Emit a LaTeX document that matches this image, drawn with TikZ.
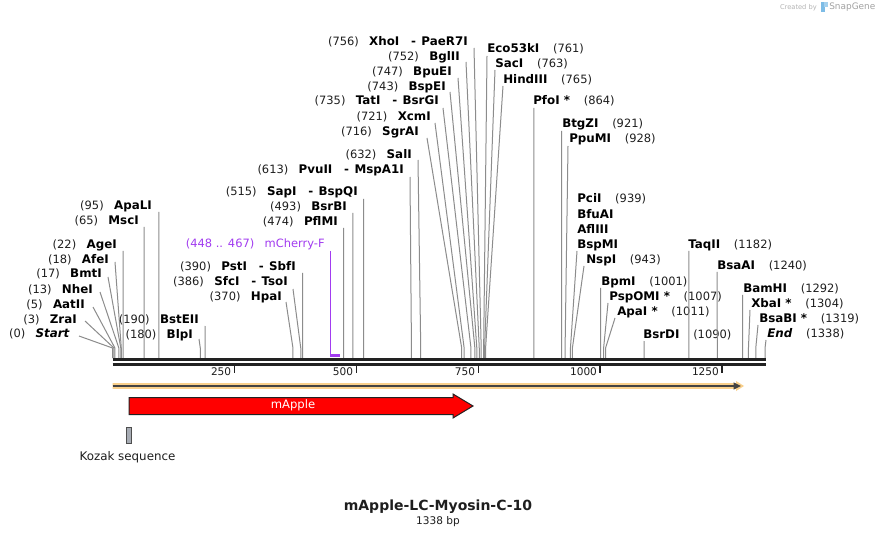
\documentclass[tikz,border=0pt]{standalone}
\usepackage{fontspec}
\setmainfont{DejaVu Sans}
\usetikzlibrary{arrows.meta}
\definecolor{cutc}{HTML}{8C8C8C}
\definecolor{numc}{HTML}{1E1E1E}
\definecolor{purp}{HTML}{A23CF0}
\definecolor{orng}{HTML}{F9D08C}
\definecolor{darkl}{HTML}{222222}
\definecolor{kozc}{HTML}{A7ACB4}
\definecolor{wmc}{HTML}{B4B4B4}
\definecolor{logoc}{HTML}{7DBCE6}

\newcommand\nm[1]{{\fontsize{8.9}{10}\selectfont\bfseries #1}}
\newcommand\dsh{\hspace{1.0em}-\hspace{0.45em}}
\newcommand\siteL[8]{%
  \node[lab,anchor=east] (n#1) at (#4,#5) {\textcolor{numc}{(#2)}\hspace{0.9em}\nm{#3}};
  \coordinate (t#1) at (#6,#7);
  \coordinate (k#1) at ({112.5+0.4877*#8},348);
  \coordinate (b#1) at ({112.5+0.4877*#8},358);
  \draw[cut] (t#1) -- (k#1) -- (b#1);}
\newcommand\siteR[8]{%
  \node[lab,anchor=west] (n#1) at (#4,#5) {\nm{#2}\hspace{1.2em}\textcolor{numc}{(#3)}};
  \coordinate (t#1) at (#6,#7);
  \coordinate (k#1) at ({112.5+0.4877*#8},348);
  \coordinate (b#1) at ({112.5+0.4877*#8},358);
  \draw[cut] (t#1) -- (k#1) -- (b#1);}

\begin{document}
\begin{tikzpicture}[x=0.75pt,y=-0.75pt,
  lab/.style={inner sep=0pt, font=\fontsize{8.6}{10}\selectfont, text height=6.4pt, text depth=1.3pt},
  cut/.style={draw=cutc, line width=0.75pt},
  rul/.style={draw=darkl, line width=2pt},
  tick/.style={draw=darkl, line width=1.1pt},
  ticklab/.style={inner sep=0pt, anchor=east, font=\fontsize{7.9}{9}\selectfont, text=numc}]
\fill[white] (0,0) rectangle (878,538);
\useasboundingbox (0,0) rectangle (878,538);

% watermark
\node[inner sep=0pt, anchor=east, text=wmc, font=\fontsize{5}{6}\selectfont] (wm1) at (817,7.5) {Created by};
\fill[logoc] (821,2.5) rectangle (825,12.5);
\fill[logoc!70] (824,2.5) rectangle (827.5,7.5);
\node[inner sep=0pt, anchor=west, text=wmc!90!black, font=\fontsize{6.7}{8}\selectfont] (wm2) at (829,7) {SnapGene};

% left sites
\siteL{start}{0}{\textit{Start}}{70}{334}{79}{336}{0}
\siteL{zrai}{3}{ZraI}{77}{320}{85}{321}{3}
\siteL{aatii}{5}{AatII}{85}{305}{93}{307}{5}
\siteL{nhei}{13}{NheI}{93}{290}{100}{292}{13}
\siteL{bmti}{17}{BmtI}{102}{274}{108}{277}{17}
\siteL{afei}{18}{AfeI}{109}{260}{115}{262}{18}
\siteL{agei}{22}{AgeI}{117}{245}{123.2}{251}{22}
\siteL{msci}{65}{MscI}{139}{221}{144.2}{227}{65}
\siteL{apali}{95}{ApaLI}{152}{206}{158.8}{212}{95}
\siteL{blpi}{180}{BlpI}{193}{335}{199}{339}{180}
\siteL{bsteii}{190}{BstEII}{199}{320}{205.2}{326}{190}
\siteL{hpai}{370}{HpaI}{282}{297}{286}{302}{370}
\siteL{sfci}{386}{SfcI\dsh TsoI}{288}{282}{293}{289}{386}
\siteL{psti}{390}{PstI\dsh SbfI}{296}{267}{302.7}{273}{390}
\siteL{pflmi}{474}{PflMI}{338}{222}{343.7}{228}{474}
\siteL{bsrbi}{493}{BsrBI}{347}{207}{352.9}{213}{493}
\siteL{sapi}{515}{SapI\dsh BspQI}{358}{192}{363.7}{199}{515}
\siteL{pvuii}{613}{PvuII\dsh MspA1I}{404}{170}{410}{177}{613}
\siteL{sali}{632}{SalI}{412}{155}{418}{160}{632}
\siteL{sgrai}{716}{SgrAI}{419}{132}{427}{138}{716}
\siteL{xcmi}{721}{XcmI}{431}{117}{435}{123}{721}
\siteL{tati}{735}{TatI\dsh BsrGI}{439}{101}{443}{108}{735}
\siteL{bspei}{743}{BspEI}{446}{87}{450}{92}{743}
\siteL{bpuei}{747}{BpuEI}{452}{72}{458}{78}{747}
\siteL{bglii}{752}{BglII}{460}{57}{466}{62}{752}
\siteL{xhoi}{756}{XhoI\dsh PaeR7I}{468}{42}{474}{48}{756}

% right sites
\siteR{eco}{Eco53kI}{761}{487}{49}{487}{56}{761}
\siteR{saci}{SacI}{763}{495}{64}{495}{70}{763}
\siteR{hind}{HindIII}{765}{503}{80}{503}{86}{765}
\siteR{pfoi}{PfoI *}{864}{533}{101}{533.9}{108}{864}
\siteR{btgzi}{BtgZI}{921}{562}{124}{561.7}{131}{921}
\siteR{ppumi}{PpuMI}{928}{569}{139}{568}{146}{928}
\node[lab,anchor=west] (npcii) at (577,199) {\nm{PciI}\hspace{1.2em}\textcolor{numc}{(939)}};
\node[lab,anchor=west] (nbfuai) at (577,215) {\nm{BfuAI}};
\node[lab,anchor=west] (nafliii) at (577,230) {\nm{AflIII}};
\node[lab,anchor=west] (nbspmi) at (577,245) {\nm{BspMI}};
\coordinate (tpcii) at (577,251);
\coordinate (kpcii) at ({112.5+0.4877*939},348);
\coordinate (bpcii) at ({112.5+0.4877*939},358);
\draw[cut] (tpcii) -- (kpcii) -- (bpcii);
\siteR{nspi}{NspI}{943}{586}{260}{584}{266}{943}
\siteR{bpmi}{BpmI}{1001}{601}{282}{600.7}{288}{1001}
\siteR{pspomi}{PspOMI *}{1007}{609}{297}{608}{303}{1007}
\siteR{apai}{ApaI *}{1011}{617}{312}{615}{318}{1011}
\siteR{bsrdi}{BsrDI}{1090}{643}{335}{644.1}{341}{1090}
\siteR{taqii}{TaqII}{1182}{688}{245}{688.9}{251}{1182}
\siteR{bsaai}{BsaAI}{1240}{717}{266}{717.2}{272}{1240}
\siteR{bamhi}{BamHI}{1292}{743}{289}{742.6}{295}{1292}
\siteR{xbai}{XbaI *}{1304}{751}{304}{750}{310}{1304}
\siteR{bsabi}{BsaBI *}{1319}{759}{319}{758}{325}{1319}
\siteR{end}{\textit{End}}{1338}{767}{334}{766}{340}{1338}

% primer mCherry-F
\node[lab,anchor=east,text=purp] (nmch) at (325,244) {(448 .. 467)\hspace{0.9em}mCherry-F};
\coordinate (tmch) at (330.6,251);
\coordinate (kmch) at (330.6,355.5);
\coordinate (emch) at (339.8,355.5);
\draw[draw=purp, line width=0.9pt] (tmch) -- (kmch);
\draw[draw=purp, line width=1.6pt] ([xshift=-0.4pt]kmch) -- (emch);

% ruler
\coordinate (r0) at (112.5,359.6);
\coordinate (r1) at (766,359.6);
\coordinate (s0) at (112.5,364.2);
\coordinate (s1) at (766,364.2);
\draw[rul] (r0) -- (r1);
\draw[rul] (s0) -- (s1);
\foreach \v/\p in {250/234.4,500/356.3,750/478.3,1000/600.2,1250/722.1}{
  \coordinate (ta\v) at (\p,365);
  \coordinate (tb\v) at (\p,372.5);
  \draw[tick] (ta\v) -- (tb\v);
  \node[ticklab] (tl\v) at (\p-3,371.5) {\v};
}

% orange ORF arrow
\fill[orng] (112.5,383.2) -- (736,383.2) -- (736,381) -- (744,386) -- (736,391) -- (736,388.8) -- (112.5,388.8) -- cycle;
\coordinate (o0) at (112.5,386);
\coordinate (o1) at (741,386);
\draw[draw=darkl!85, line width=1.1pt, -{Triangle[length=5.5pt,width=5pt]}] (o0) -- (o1);

% mApple feature
\draw[draw=darkl, fill=red, line width=0.75pt] (129,397.5) -- (453,397.5) -- (453,394) -- (473,406) -- (453,418) -- (453,414.5) -- (129,414.5) -- cycle;
\node[inner sep=0pt, text=white, font=\fontsize{8.7}{10}\selectfont] (mapple) at (293,405.5) {mApple};

% Kozak
\draw[draw=darkl!80, fill=kozc, line width=0.6pt] (126.3,427.3) rectangle (131.3,443.3);
\node[inner sep=0pt, font=\fontsize{8.9}{10}\selectfont, text=numc] (kozak) at (127.5,457) {Kozak sequence};

% title
\node[inner sep=0pt, font=\bfseries\fontsize{10.5}{12}\selectfont, text=numc] (title) at (438,507) {mApple-LC-Myosin-C-10};
\node[inner sep=0pt, font=\fontsize{7.9}{9}\selectfont, text=numc] (bp) at (438,521.5) {1338 bp};
\end{tikzpicture}
\end{document}
